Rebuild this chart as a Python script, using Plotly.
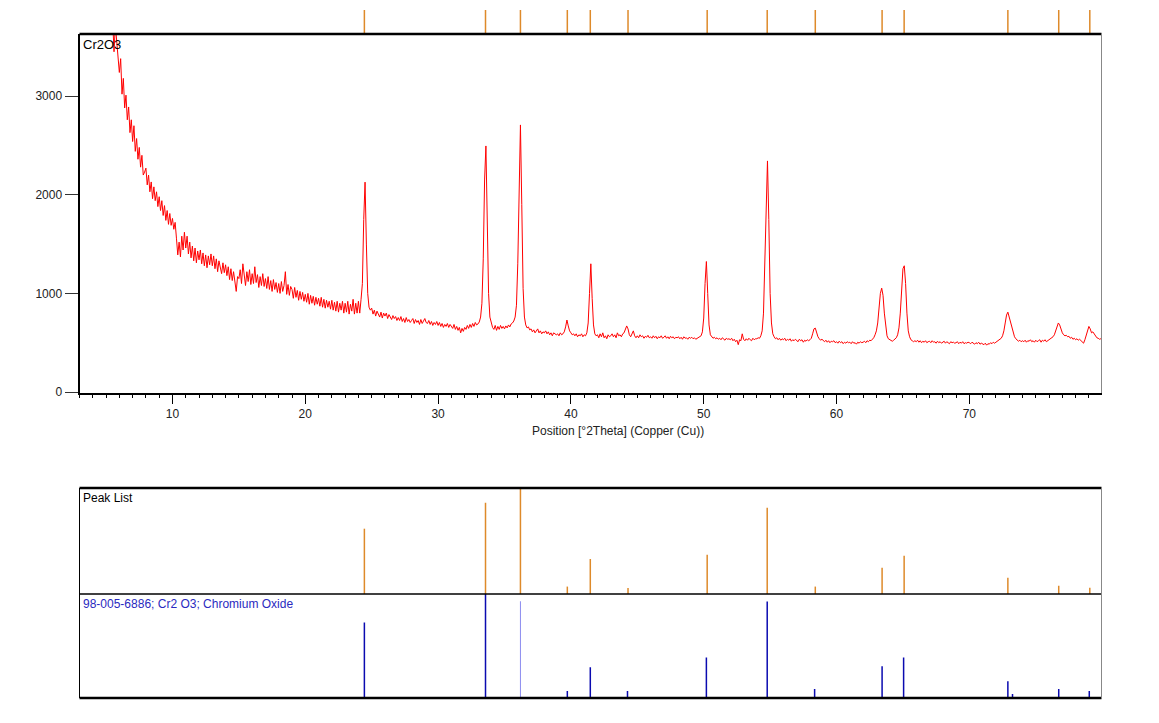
import numpy as np
import plotly.graph_objects as go

# measured scan: 5.0 .. 80.0 deg 2theta, 0.1 deg step
scan_start = 5.0
scan_step = 0.1
counts = [
    4420, 4300, 4350, 4150, 4060, 3760, 3450, 3720, 3540, 3380,   # 5
    3240, 3380, 3020, 3180, 2880, 3010, 2760, 2890, 2630, 2760,   # 6
    2540, 2700, 2440, 2570, 2360, 2480, 2280, 2400, 2200, 2230,   # 7
    2270, 2100, 2200, 2030, 2130, 1960, 2080, 1940, 2030, 1880,   # 8
    1980, 1840, 1940, 1790, 1890, 1740, 1840, 1700, 1810, 1690,   # 9
    1760, 1650, 1720, 1560, 1390, 1520, 1370, 1580, 1440, 1620,   # 10
    1460, 1580, 1400, 1520, 1360, 1480, 1330, 1460, 1310, 1430,   # 11
    1340, 1440, 1300, 1410, 1280, 1390, 1260, 1380, 1290, 1400,   # 12
    1280, 1380, 1250, 1350, 1220, 1330, 1240, 1200, 1310, 1210,   # 13
    1290, 1180, 1270, 1140, 1250, 1130, 1220, 1110, 1020, 1170,   # 14
    1150, 1240, 1100, 1300, 1160, 1080, 1220, 1120, 1240, 1090,   # 15
    1200, 1100, 1270, 1110, 1190, 1060, 1170, 1080, 1200, 1070,   # 16
    1150, 1050, 1170, 1040, 1130, 1020, 1140, 1040, 1110, 1010,   # 17
    1100, 1000, 1120, 1020, 1080, 1220, 990, 1090, 980, 1070,     # 18
    1040, 950, 1060, 960, 1030, 930, 1020, 940, 1010, 920,        # 19
    990, 910, 1000, 890, 980, 900, 970, 880, 960, 890,            # 20
    950, 870, 960, 860, 940, 850, 930, 860, 920, 840,             # 21
    930, 830, 910, 820, 920, 810, 900, 830, 920, 800,             # 22
    900, 810, 920, 790, 890, 820, 940, 790, 900, 800,             # 23
    920, 800, 940, 1100, 1750, 2128, 1500, 1000, 860, 830,        # 24
    850, 790, 830, 770, 820, 780, 760, 810, 750, 800,             # 25
    770, 800, 745, 785, 755, 735, 775, 745, 765, 725,             # 26
    755, 725, 765, 715, 745, 705, 755, 715, 735, 705,             # 27
    725, 745, 695, 735, 705, 725, 685, 735, 695, 725,             # 28
    745, 705, 695, 725, 685, 715, 675, 705, 685, 715,             # 29
    675, 705, 665, 695, 655, 685, 665, 695, 655, 685,             # 30
    670, 645, 685, 635, 665, 625, 655, 600, 645, 615,             # 31
    655, 635, 675, 645, 685, 655, 695, 665, 705, 680,             # 32
    690, 710, 760, 900, 1350, 2150, 2495, 1700, 1000, 760,        # 33
    700, 655, 635, 675, 625, 665, 635, 675, 645, 665,             # 34
    640, 670, 650, 680, 660, 690, 700, 720, 760, 880,             # 35
    1300, 2250, 2708, 1900, 1050, 760, 680, 650, 660, 630,        # 36
    640, 610, 630, 600, 620, 640, 600, 620, 590, 610,             # 37
    600, 620, 590, 610, 580, 600, 570, 600, 590, 580,             # 38
    590, 570, 600, 580, 590, 610, 660, 730, 670, 620,             # 39
    600, 580, 590, 570, 590, 560, 580, 570, 590, 560,             # 40
    580, 570, 600, 700, 1000, 1300, 950, 680, 590, 570,           # 41
    580, 550, 590, 560, 600, 550, 570, 540, 580, 560,             # 42
    570, 590, 560, 580, 550, 600, 570, 580, 560, 590,             # 43
    600, 630, 670, 640, 580, 560, 590, 620, 570, 550,             # 44
    570, 550, 580, 560, 570, 545, 565, 555, 575, 550,             # 45
    560, 545, 570, 550, 565, 540, 560, 550, 570, 545,             # 46
    555, 570, 545, 560, 540, 565, 550, 560, 540, 555,             # 47
    550, 560, 540, 555, 535, 560, 545, 550, 535, 555,             # 48
    545, 555, 540, 550, 535, 545, 550, 560, 570, 610,             # 49
    750, 1100, 1323, 1000, 680, 580, 560, 545, 555, 540,          # 50
    550, 535, 545, 530, 550, 540, 525, 545, 535, 540,             # 51
    530, 545, 520, 535, 510, 525, 480, 530, 520, 590,             # 52
    535, 520, 540, 525, 545, 530, 520, 545, 530, 540,             # 53
    540, 550, 545, 570, 620, 800, 1300, 2000, 2343, 1750,         # 54
    1000, 700, 590, 560, 540, 550, 530, 545, 525, 540,            # 55
    530, 545, 520, 535, 525, 540, 515, 530, 520, 535,             # 56
    525, 510, 535, 520, 530, 505, 525, 515, 530, 520,             # 57
    530, 545, 590, 640, 648, 600, 560, 540, 525, 535,             # 58
    520, 510, 525, 505, 520, 500, 515, 510, 520, 500,             # 59
    510, 495, 515, 500, 510, 490, 505, 495, 510, 500,             # 60
    505, 490, 510, 495, 500, 485, 505, 495, 510, 500,             # 61
    505, 515, 500, 520, 510, 525, 520, 535, 550, 580,             # 62
    620, 700, 850, 1000, 1053, 980, 800, 640, 570, 540,           # 63
    530, 520, 515, 525, 535, 550, 580, 650, 800, 1050,            # 64
    1250, 1280, 1100, 800, 620, 560, 530, 520, 510, 520,          # 65
    510, 525, 505, 520, 500, 515, 505, 520, 500, 510,             # 66
    515, 500, 520, 505, 510, 495, 515, 500, 510, 495,             # 67
    505, 515, 495, 510, 500, 490, 510, 500, 505, 495,             # 68
    500, 510, 490, 505, 495, 510, 490, 500, 495, 505,             # 69
    500, 490, 505, 495, 485, 500, 490, 505, 485, 495,             # 70
    490, 480, 495, 475, 490, 485, 500, 490, 505, 495,             # 71
    505, 515, 520, 530, 545, 570, 620, 700, 780, 810,             # 72
    760, 700, 640, 600, 560, 540, 525, 515, 525, 510,             # 73
    520, 510, 525, 505, 520, 515, 530, 510, 520, 505,             # 74
    525, 510, 520, 530, 505, 525, 515, 530, 510, 520,             # 75
    525, 535, 550, 560, 580, 620, 660, 700, 680, 630,             # 76
    600, 580, 570, 575, 560, 565, 545, 555, 535, 545,             # 77
    530, 540, 525, 535, 520, 510, 495, 530, 580, 640,             # 78
    665, 640, 600, 610, 590, 580, 550, 545, 535, 540,             # 79
    535,
]
two_theta = np.round(scan_start + scan_step * np.arange(len(counts)), 2)

# peak list (positions, relative height %)
peak_pos = [24.45, 33.57, 36.20, 39.73, 41.46, 44.30, 50.26, 54.78,
            58.40, 63.43, 65.09, 72.90, 76.73, 79.07]
peak_rel = [61.6, 86.0, 100.0, 7.0, 33.0, 5.7, 37.0, 81.4,
            7.0, 24.8, 36.0, 15.4, 7.9, 6.0]

# reference pattern 98-005-6886 Cr2 O3
ref_pos = [24.45, 33.57, 39.73, 41.46, 44.26, 50.20, 54.78, 58.35,
           63.43, 65.05, 72.90, 73.25, 76.73, 79.03]
ref_rel = [72.6, 100.0, 6.7, 29.6, 6.7, 39.0, 92.7, 8.6,
           30.6, 39.0, 16.0, 3.8, 8.6, 6.7]
ref_pos_light = [36.20]
ref_rel_light = [93.0]

x_range = [3.0, 79.95]
y_ticks = [0, 1000, 2000, 3000]
x_ticks = [10, 20, 30, 40, 50, 60, 70]

ORANGE = "#de8a2a"
BLUE = "#0a0ab0"
FONT = "Liberation Sans, Arial, sans-serif"

W, H = 1159, 723
H_PLOT = 717   # effective drawing height seen in the page


def stick(xs, hs, base=0):
    sx, sy = [], []
    for p, h in zip(xs, hs):
        sx += [p, p, None]
        sy += [base, h, None]
    return sx, sy


fig = go.Figure()

fig.add_trace(go.Scatter(x=two_theta, y=counts, mode="lines",
                         line=dict(color="#ff0000", width=1),
                         xaxis="x", yaxis="y", hoverinfo="skip"))

mx, my = stick(peak_pos, [1] * len(peak_pos))
fig.add_trace(go.Scatter(x=mx, y=my, mode="lines",
                         line=dict(color=ORANGE, width=1.5),
                         xaxis="x4", yaxis="y4", hoverinfo="skip"))

px_, py_ = stick(peak_pos, peak_rel)
fig.add_trace(go.Scatter(x=px_, y=py_, mode="lines",
                         line=dict(color=ORANGE, width=1.5),
                         xaxis="x2", yaxis="y2", hoverinfo="skip"))

rx, ry = stick(ref_pos, ref_rel)
fig.add_trace(go.Scatter(x=rx, y=ry, mode="lines",
                         line=dict(color=BLUE, width=1.5),
                         xaxis="x3", yaxis="y3", hoverinfo="skip"))
lx, ly = stick(ref_pos_light, ref_rel_light)
fig.add_trace(go.Scatter(x=lx, y=ly, mode="lines",
                         line=dict(color="#8c8cf0", width=1),
                         xaxis="x3", yaxis="y3", hoverinfo="skip"))


def px(v):
    return v / W


def py(v):
    return 1 - v / H_PLOT


xdom = [px(79.5), px(1101.5)]
top_dom = [py(393), py(34)]
pl_dom = [py(594), py(488)]
ref_dom = [py(698), py(594)]
mark_dom = [py(34), py(10)]

hidden = dict(showline=False, showticklabels=False, ticks="",
              showgrid=False, zeroline=False)

fig.update_layout(
    width=W, height=H,
    margin=dict(l=0, r=0, t=0, b=0),
    paper_bgcolor="white", plot_bgcolor="white",
    showlegend=False,
    font=dict(family=FONT, size=12, color="#222222"),
    xaxis=dict(domain=xdom, range=x_range, anchor="y",
               showline=True, linecolor="black", linewidth=2,
               ticks="outside", ticklen=9, tickwidth=1, tickcolor="black",
               tickvals=x_ticks, showgrid=False, zeroline=False,
               minor=dict(ticks="outside", ticklen=3, dtick=1,
                          tickcolor="black", tickwidth=1),
               tickfont=dict(size=12, color="#222222")),
    yaxis=dict(domain=top_dom, range=[-10, 3630], anchor="x",
               showline=True, linecolor="black", linewidth=2,
               ticks="outside", ticklen=13, tickwidth=1, tickcolor="#333333",
               tickvals=y_ticks, showgrid=False, zeroline=False,
               tickfont=dict(size=12, color="#222222")),
    xaxis2=dict(domain=xdom, range=x_range, anchor="y2", **hidden),
    yaxis2=dict(domain=pl_dom, range=[0, 100], anchor="x2", **hidden),
    xaxis3=dict(domain=xdom, range=x_range, anchor="y3", **hidden),
    yaxis3=dict(domain=ref_dom, range=[0, 100], anchor="x3", **hidden),
    xaxis4=dict(domain=xdom, range=x_range, anchor="y4", **hidden),
    yaxis4=dict(domain=mark_dom, range=[0, 1], anchor="x4", **hidden),
)

shapes = []


def hline(y, w, color="black"):
    shapes.append(dict(type="line", xref="paper", yref="paper",
                       x0=xdom[0], x1=xdom[1], y0=y, y1=y,
                       line=dict(color=color, width=w)))


def vline(x, y0, y1, w, color):
    shapes.append(dict(type="line", xref="paper", yref="paper",
                       x0=x, x1=x, y0=y0, y1=y1,
                       line=dict(color=color, width=w)))


# frames
hline(top_dom[1], 2.5)
vline(xdom[1], top_dom[0], top_dom[1], 1, "#888888")
hline(pl_dom[1], 2.5)
hline(pl_dom[0], 1.5)
hline(ref_dom[0], 2.5)
vline(xdom[0], ref_dom[0], pl_dom[1], 1, "black")
vline(xdom[1], ref_dom[0], pl_dom[1], 1, "#888888")
fig.update_layout(shapes=shapes)

annotations = [
    dict(text="Cr2O3", x=px(81), y=py(35), xanchor="left", yanchor="top",
         font=dict(size=13, color="black")),
    dict(text="Position [°2Theta] (Copper (Cu))", x=px(618), y=py(431),
         xanchor="center", yanchor="middle", font=dict(size=12, color="#222222")),
    dict(text="Peak List", x=px(81), y=py(489), xanchor="left", yanchor="top",
         font=dict(size=12, color="black")),
    dict(text="98-005-6886; Cr2 O3; Chromium Oxide", x=px(81), y=py(595),
         xanchor="left", yanchor="top", font=dict(size=12, color="#2a2ac0")),
]
for a in annotations:
    a.update(xref="paper", yref="paper", showarrow=False)
fig.update_layout(annotations=annotations)

# page body margin would shift the fixed-size figure
fig.write_html("out.html", config={"displayModeBar": False},
               post_script="document.body.style.margin='0';")
